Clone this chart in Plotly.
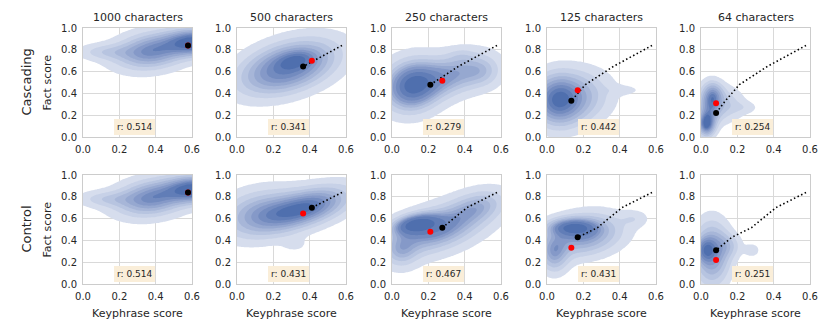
import numpy as np
import plotly.graph_objects as go

TITLES = ["1000 characters", "500 characters", "250 characters", "125 characters", "64 characters"]
ROW_NAMES = ["Cascading", "Control"]

# mean (keyphrase score, fact score) for each summary length
CASC_X = [0.578, 0.364, 0.211, 0.134, 0.083]
CASC_Y = [0.840, 0.646, 0.480, 0.332, 0.220]
CTRL_X = [0.578, 0.412, 0.277, 0.169, 0.083]
CTRL_Y = [0.840, 0.700, 0.516, 0.428, 0.309]

R_CASC = [0.514, 0.341, 0.279, 0.442, 0.254]
R_CTRL = [0.514, 0.431, 0.467, 0.431, 0.251]

X_TICKS = [0.0, 0.2, 0.4, 0.6]
Y_TICKS = [0.0, 0.2, 0.4, 0.6, 0.8, 1.0]

# density blobs: x, y, sd_x, sd_y, corr, peak
KDE_1000 = [(0.62, 0.87, 0.10, 0.08, 0.0, 1.0),
            (0.38, 0.79, 0.13, 0.11, 0.2, 0.8),
            (0.12, 0.78, 0.10, 0.05, 0.0, 0.25)]
KDE_CASC_500 = [(0.32, 0.70, 0.06, 0.05, 0.3, 0.5),
                (0.28, 0.64, 0.16, 0.15, 0.4, 1.0)]
KDE_CASC_250 = [(0.11, 0.47, 0.10, 0.15, 0.1, 1.0),
                (0.33, 0.57, 0.13, 0.13, 0.3, 0.55),
                (0.50, 0.60, 0.07, 0.10, 0.0, 0.25),
                (0.38, 0.75, 0.05, 0.05, 0.0, 0.10)]
KDE_CASC_125 = [(0.055, 0.34, 0.08, 0.14, 0.0, 1.0),
                (0.14, 0.36, 0.12, 0.15, 0.1, 0.7),
                (0.42, 0.43, 0.06, 0.03, 0.0, 0.12)]
KDE_CASC_64 = [(0.03, 0.12, 0.03, 0.07, 0.0, 1.0),
               (0.05, 0.30, 0.04, 0.11, 0.0, 0.6),
               (0.07, 0.40, 0.035, 0.07, 0.0, 0.35),
               (0.12, 0.30, 0.07, 0.10, 0.0, 0.3),
               (0.24, 0.27, 0.05, 0.04, 0.0, 0.10)]
KDE_CTRL_500 = [(0.38, 0.70, 0.15, 0.12, 0.5, 1.0),
                (0.13, 0.64, 0.14, 0.14, 0.2, 0.6),
                (0.32, 0.36, 0.05, 0.05, 0.0, 0.08)]
KDE_CTRL_250 = [(0.13, 0.55, 0.08, 0.06, 0.3, 1.0),
                (0.25, 0.50, 0.17, 0.15, 0.5, 0.8),
                (0.05, 0.30, 0.06, 0.10, 0.0, 0.35),
                (0.48, 0.72, 0.10, 0.10, 0.3, 0.4)]
KDE_CTRL_125 = [(0.14, 0.52, 0.08, 0.05, 0.0, 1.0),
                (0.04, 0.28, 0.05, 0.11, 0.0, 0.6),
                (0.20, 0.45, 0.13, 0.12, 0.2, 0.8),
                (0.48, 0.60, 0.05, 0.05, 0.0, 0.15)]
KDE_CTRL_64 = [(0.035, 0.31, 0.03, 0.06, 0.0, 1.0),
               (0.06, 0.28, 0.06, 0.17, 0.0, 0.6),
               (0.14, 0.35, 0.05, 0.07, 0.0, 0.2),
               (0.28, 0.31, 0.025, 0.035, 0.0, 0.12)]

KDE_ROWS = [[KDE_1000, KDE_CASC_500, KDE_CASC_250, KDE_CASC_125, KDE_CASC_64],
            [KDE_1000, KDE_CTRL_500, KDE_CTRL_250, KDE_CTRL_125, KDE_CTRL_64]]

BAND_COLORS = ["#d6dded", "#c7d1e7", "#b7c4e0", "#a7b6d8", "#96a8d0",
               "#8599c8", "#738bbf", "#617db7", "#4f6fae"]

# page body has an 8px margin, so the figure is drawn 8px in from the corner
PAGE = 8
W, H = 830 - PAGE, 332 - PAGE
PANEL_LEFT = [83, 237, 392, 547, 701]
PANEL_TOP = [28, 175]
PANEL_SIZE = 109
TEXT = "#262626"
FONT = "DejaVu Sans"

gx = np.round(np.arange(-0.4, 1.0001, 0.01), 3)
gy = np.round(np.arange(-0.4, 1.4001, 0.01), 3)
GX, GY = np.meshgrid(gx, gy)
show_x = (gx >= -0.02) & (gx <= 0.62)
show_y = (gy >= -0.02) & (gy <= 1.02)


def density(blobs):
    d = np.zeros_like(GX)
    for bx, by, sx, sy, rho, w in blobs:
        u = (GX - bx) / sx
        v = (GY - by) / sy
        q = (u * u - 2 * rho * u * v + v * v) / (1 - rho * rho)
        d += w * np.exp(-q / 2)
    return d


def band_index(d):
    # seaborn style iso-proportion levels (levels=10, thresh=0.05)
    iso = np.linspace(0.05, 1, 10)
    vals = np.sort(d.ravel())[::-1]
    cum = np.cumsum(vals) / vals.sum()
    lv = np.take(vals, np.searchsorted(cum, 1 - iso), mode="clip")
    lv = np.maximum.accumulate(lv + np.arange(10) * 1e-12)
    return np.interp(d, np.concatenate([[0], lv]), np.arange(-1, 10))


def px(x):
    return (x - PAGE) / W


def py(y):
    return 1 - (y - PAGE) / H


colorscale = [[0, "rgba(255,255,255,0)"], [0.05, "rgba(255,255,255,0)"]]
for i, c in enumerate(BAND_COLORS):
    colorscale.append([(i + 1) / 10, c])
colorscale.append([1, BAND_COLORS[-1]])

fig = go.Figure()
annotations = []
layout = {}

for r in range(2):
    mx, my = (CASC_X, CASC_Y) if r == 0 else (CTRL_X, CTRL_Y)
    ox, oy = (CTRL_X, CTRL_Y) if r == 0 else (CASC_X, CASC_Y)
    rvals = R_CASC if r == 0 else R_CTRL
    for c in range(5):
        k = r * 5 + c + 1
        sfx = "" if k == 1 else str(k)
        xa, ya = "x" + sfx, "y" + sfx
        z = band_index(density(KDE_ROWS[r][c]))
        fig.add_trace(go.Contour(
            x=gx[show_x], y=gy[show_y], z=z[np.ix_(show_y, show_x)],
            xaxis=xa, yaxis=ya, showscale=False, colorscale=colorscale,
            contours=dict(start=0, end=9, size=1, coloring="fill", showlines=False),
            line=dict(width=0), hoverinfo="skip"))
        if c > 0:
            fig.add_trace(go.Scatter(
                x=mx[:c + 1], y=my[:c + 1], mode="lines", xaxis=xa, yaxis=ya,
                line=dict(color="black", width=1.6, dash="1.5px,2.5px"),
                showlegend=False, hoverinfo="skip"))
        fig.add_trace(go.Scatter(
            x=[ox[c]], y=[oy[c]], mode="markers", xaxis=xa, yaxis=ya,
            marker=dict(color="red", size=6), showlegend=False))
        fig.add_trace(go.Scatter(
            x=[mx[c]], y=[my[c]], mode="markers", xaxis=xa, yaxis=ya,
            marker=dict(color="black", size=6), showlegend=False))

        left, top = PANEL_LEFT[c], PANEL_TOP[r]
        axis_common = dict(showgrid=True, gridcolor="#d9d9d9", gridwidth=1,
                           showline=True, mirror=True, linecolor="#cccccc", linewidth=1,
                           zeroline=False, ticks="outside", ticklen=3, automargin=False,
                           tickcolor="rgba(0,0,0,0)",
                           tickfont=dict(family=FONT, size=10, color=TEXT))
        layout["xaxis" + sfx] = dict(
            axis_common, domain=[px(left), px(left + PANEL_SIZE)], range=[0, 0.6],
            tickvals=X_TICKS, ticktext=[f"{v:.1f}" for v in X_TICKS], anchor=ya)
        layout["yaxis" + sfx] = dict(
            axis_common, domain=[py(top + PANEL_SIZE), py(top)], range=[0, 1],
            tickvals=Y_TICKS, ticktext=[f"{v:.1f}" for v in Y_TICKS], anchor=xa)

        annotations.append(dict(
            x=0.47, y=0.09, xref=xa + " domain", yref=ya, text=f"r: {rvals[c]:.3f}",
            showarrow=False, font=dict(family=FONT, size=9, color=TEXT),
            xanchor="center", yanchor="middle",
            bgcolor="#faeed9", bordercolor="#faeed9", borderpad=2))

        label = TITLES[c] if r == 0 else "Keyphrase score"
        ly = 17 if r == 0 else 313
        annotations.append(dict(
            x=px(left + PANEL_SIZE / 2), y=py(ly), xref="paper", yref="paper",
            text=label, showarrow=False, xanchor="center", yanchor="middle",
            font=dict(family=FONT, size=11, color=TEXT)))

for r in range(2):
    cy = py(PANEL_TOP[r] + PANEL_SIZE / 2)
    annotations.append(dict(x=px(26), y=cy, xref="paper", yref="paper", text=ROW_NAMES[r],
                            textangle=-90, showarrow=False, xanchor="center", yanchor="middle",
                            font=dict(family=FONT, size=13, color=TEXT)))
    annotations.append(dict(x=px(47), y=cy, xref="paper", yref="paper", text="Fact score",
                            textangle=-90, showarrow=False, xanchor="center", yanchor="middle",
                            font=dict(family=FONT, size=11, color=TEXT)))

fig.update_layout(
    width=W, height=H, margin=dict(l=0, r=0, t=0, b=0, autoexpand=False),
    paper_bgcolor="white", plot_bgcolor="white", showlegend=False,
    annotations=annotations, **layout)

fig.write_html("out.html")
